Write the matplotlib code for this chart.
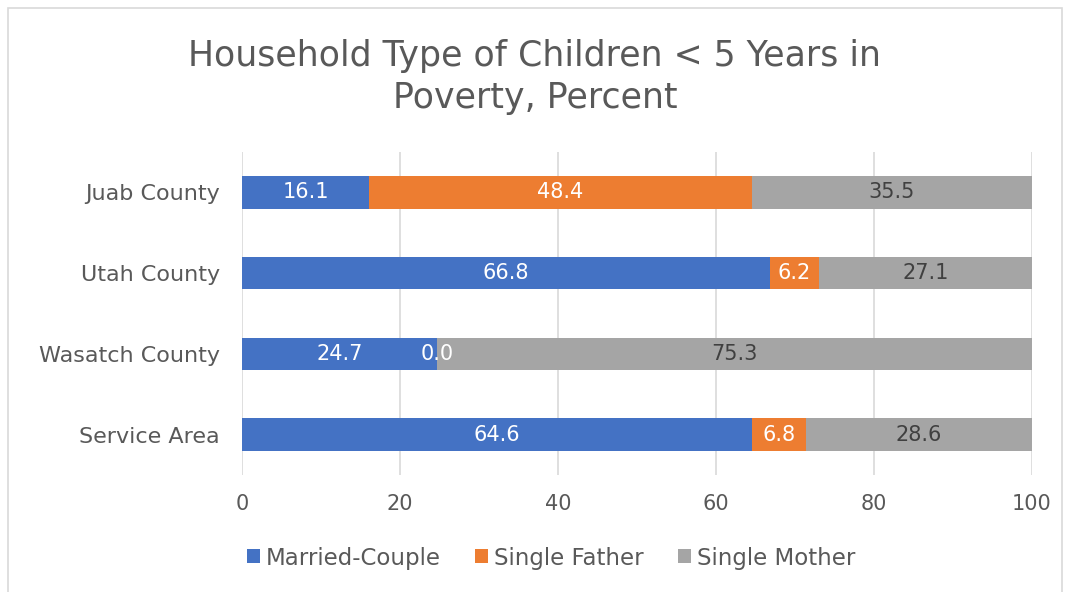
import matplotlib.pyplot as plt
import numpy as np
from matplotlib.patches import Rectangle

plt.rcParams['font.family'] = ['DejaVu Sans']

# data
categories = ['Juab County', 'Utah County', 'Wasatch County', 'Service Area']
series_names = ['Married-Couple', 'Single Father', 'Single Mother']
married = [16.1, 66.8, 24.7, 64.6]
father = [48.4, 6.2, 0.0, 6.8]
mother = [35.5, 27.1, 75.3, 28.6]
colors = ['#4472C4', '#ED7D31', '#A5A5A5']
label_colors = ['white', 'white', '#404040']
text_gray = '#595959'

fig = plt.figure(figsize=(10.7, 5.92), dpi=100)
fig.patches.append(Rectangle((8 / 1070, -0.01), 1054 / 1070, 1.0 - 8 / 592 + 0.01,
                             transform=fig.transFigure, fill=False,
                             edgecolor='#D9D9D9', linewidth=1.2))
ax = fig.add_axes([242 / 1070, 1 - 475 / 592, 790 / 1070, 323 / 592])

y = np.arange(len(categories))
left = np.zeros(len(categories))
for vals, name, col, lc in zip([married, father, mother], series_names, colors, label_colors):
    vals = np.array(vals)
    bars = ax.barh(y, vals, left=left, height=0.4, color=col, label=name, zorder=2)
    for b, v, l in zip(bars, vals, left):
        ax.text(l + v / 2, b.get_y() + b.get_height() / 2, f'{v:.1f}',
                ha='center', va='center', color=lc, fontsize=15, zorder=3)
    left = left + vals

ax.set_xlim(0, 100)
ax.set_ylim(3.5, -0.5)
ax.set_xticks(np.arange(0, 101, 20))
ax.set_yticks(y)
ax.set_yticklabels(categories)
ax.tick_params(axis='both', length=0, colors=text_gray, labelsize=15)
ax.tick_params(axis='y', labelsize=16, pad=16)
ax.tick_params(axis='x', pad=14)
ax.grid(axis='x', color='#D9D9D9', linewidth=1.2, zorder=0)
for s in ax.spines.values():
    s.set_visible(False)

fig.text(0.5, 1 - 77 / 592, 'Household Type of Children < 5 Years in\nPoverty, Percent',
         ha='center', va='center', fontsize=25, color=text_gray, linespacing=1.3)

fig.legend(loc='center', bbox_to_anchor=(551 / 1070, 1 - 558 / 592), ncol=3, frameon=False,
           fontsize=16.5, labelcolor=text_gray, handlelength=0.57, handleheight=0.57,
           handletextpad=0.26, columnspacing=1.5)

fig.savefig('out.png', dpi=100)
